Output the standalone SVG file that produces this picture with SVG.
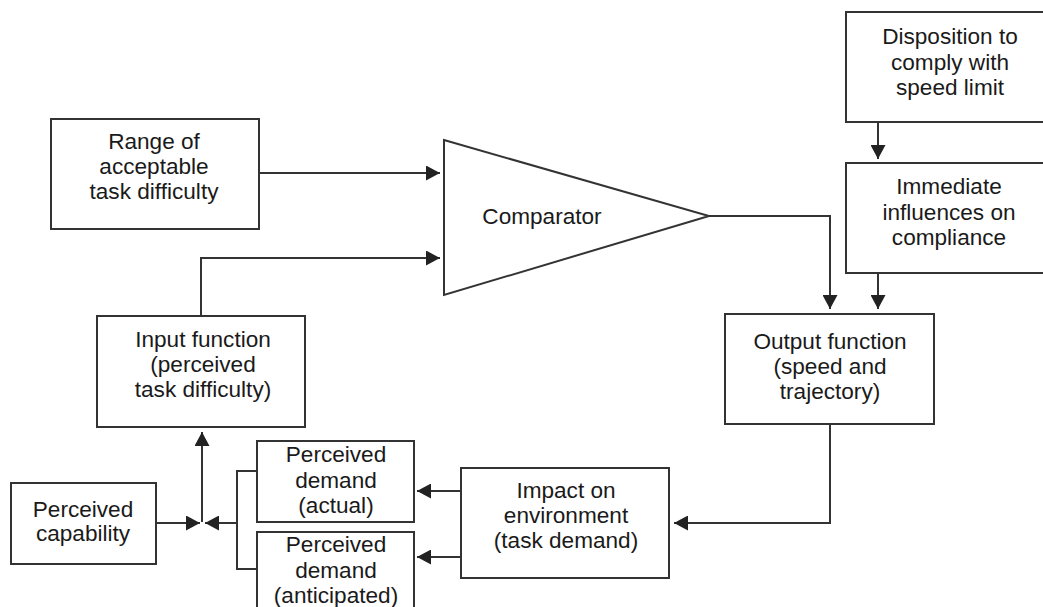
<svg xmlns="http://www.w3.org/2000/svg" width="1043" height="607" viewBox="0 0 1043 607">
<defs>
<marker id="arr" markerUnits="userSpaceOnUse" markerWidth="14" markerHeight="15" refX="14" refY="7.5" orient="auto" viewBox="0 0 14 15">
<path d="M0,0 L14,7.5 L0,15 Z" fill="#222"/>
</marker>
<style>
.box{fill:#fff;stroke:#333;stroke-width:2}
.ln{fill:none;stroke:#333;stroke-width:2}
.ar{marker-end:url(#arr)}
text{font-family:"Liberation Sans",Arial,sans-serif;font-size:22.6px;fill:#1a1a1a;text-anchor:middle}
</style>
</defs>
<rect width="1043" height="607" fill="#fff"/>
<g id="connectors">
<path class="ln ar" d="M259,173 H440"/>
<path class="ln ar" d="M201,316 V258 H440"/>
<path class="ln ar" d="M709,216 H830 V309"/>
<path class="ln ar" d="M878,122 V159"/>
<path class="ln ar" d="M878,273 V309"/>
<path class="ln ar" d="M830,424 V523 H674"/>
<path class="ln ar" d="M461,491 H417"/>
<path class="ln ar" d="M461,557 H417"/>
<path class="ln" d="M257,471 H237 V569 H257"/>
<path class="ln ar" d="M237,523 H205"/>
<path class="ln ar" d="M156,523 H200"/>
<path class="ln ar" d="M202,522 V432"/>
</g>
<g id="range">
<rect class="box" x="51" y="119" width="208" height="110"/>
<text x="154" y="149">Range of</text>
<text x="154" y="174">acceptable</text>
<text x="154" y="199">task difficulty</text>
</g>
<g id="comparator">
<polygon class="box" points="444,140 709,216 444,295"/>
<text x="542" y="224">Comparator</text>
</g>
<g id="disposition">
<rect class="box" x="846" y="12" width="210" height="110"/>
<text x="950" y="44">Disposition to</text>
<text x="950" y="70">comply with</text>
<text x="950" y="95">speed limit</text>
</g>
<g id="immediate">
<rect class="box" x="846" y="163" width="210" height="110"/>
<text x="949" y="194">Immediate</text>
<text x="949" y="220">influences on</text>
<text x="949" y="245">compliance</text>
</g>
<g id="output">
<rect class="box" x="725" y="314" width="209" height="110"/>
<text x="830" y="349">Output function</text>
<text x="830" y="374">(speed and</text>
<text x="830" y="399">trajectory)</text>
</g>
<g id="input">
<rect class="box" x="97" y="316" width="208" height="111"/>
<text x="203" y="347">Input function</text>
<text x="203" y="372">(perceived</text>
<text x="203" y="397">task difficulty)</text>
</g>
<g id="impact">
<rect class="box" x="461" y="468" width="208" height="110"/>
<text x="566" y="498">Impact on</text>
<text x="566" y="523">environment</text>
<text x="566" y="548">(task demand)</text>
</g>
<g id="demand-actual">
<rect class="box" x="257" y="441" width="157" height="81"/>
<text x="336" y="462">Perceived</text>
<text x="336" y="488">demand</text>
<text x="336" y="513">(actual)</text>
</g>
<g id="demand-anticipated">
<rect class="box" x="257" y="532" width="157" height="90"/>
<text x="336" y="552">Perceived</text>
<text x="336" y="578">demand</text>
<text x="336" y="603">(anticipated)</text>
</g>
<g id="capability">
<rect class="box" x="11" y="483" width="145" height="81"/>
<text x="83" y="517">Perceived</text>
<text x="83" y="541">capability</text>
</g>
</svg>
